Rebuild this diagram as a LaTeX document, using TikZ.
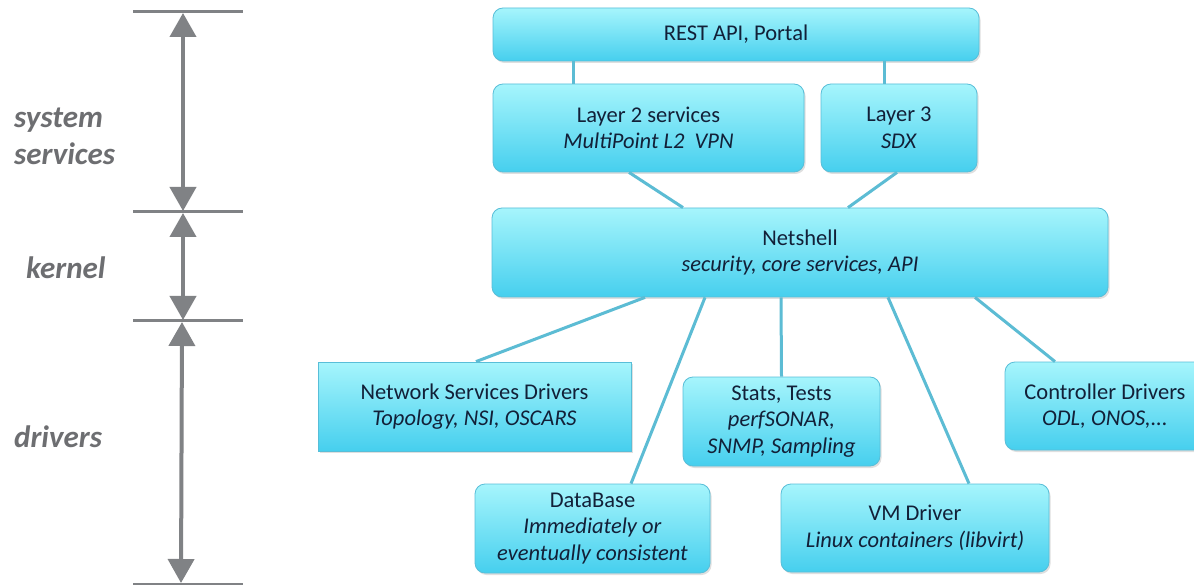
\documentclass[tikz,border=0pt]{standalone}
\usepackage{fontspec}
\setmainfont{Carlito}
\usetikzlibrary{arrows.meta,shadows}
\definecolor{boxtop}{HTML}{A6F5FC}
\definecolor{boxbot}{HTML}{46CFEE}
\definecolor{boxline}{HTML}{58BED8}
\definecolor{wire}{HTML}{5CBCD4}
\definecolor{ink}{HTML}{122038}
\definecolor{scalegray}{HTML}{808285}
\definecolor{labelgray}{HTML}{6D6E71}
\tikzset{
  box/.style={draw=boxline, line width=0.8pt, top color=boxtop, bottom color=boxbot,
    rounded corners=10pt, align=center, text=ink, inner sep=0pt,
    font=\fontsize{22.5}{26.5}\selectfont,
    drop shadow={opacity=0.25, shadow xshift=1.5pt, shadow yshift=-2pt}},
  sqbox/.style={box, rounded corners=0pt},
  wire/.style={draw=wire, line width=3pt},
  scale line/.style={draw=scalegray, line width=3pt},
  span/.style={draw=scalegray, line width=4pt,
    {Triangle[width=26pt,length=24pt]}-{Triangle[width=26pt,length=24pt]}},
  layer/.style={text=labelgray, align=left, anchor=west, inner sep=0pt,
    font=\fontsize{31}{37}\selectfont\bfseries\itshape}
}
\begin{document}
\begin{tikzpicture}[x=1pt,y=-1pt]
\clip (0,0) rectangle (1194,585);
\fill[white] (0,0) rectangle (1194,585);

% layer scale on the left
\coordinate (t0) at (133,12);  \coordinate (t0e) at (243,12);
\coordinate (t1) at (133,212); \coordinate (t1e) at (243,212);
\coordinate (t2) at (133,321); \coordinate (t2e) at (243,321);
\coordinate (t3) at (133,584); \coordinate (t3e) at (243,584);
\draw[scale line] (t0) -- (t0e);
\draw[scale line] (t1) -- (t1e);
\draw[scale line] (t2) -- (t2e);
\draw[scale line] (t3) -- (t3e);
\coordinate (a0) at (183,13);  \coordinate (a1) at (183,211);
\coordinate (b0) at (183,213); \coordinate (b1) at (183,320);
\coordinate (c0) at (182,322); \coordinate (c1) at (181,583);
\draw[span] (a0) -- (a1);
\draw[span] (b0) -- (b1);
\draw[span] (c0) -- (c1);
\node[layer] (lsys) at (14,136) {system\\services};
\node[layer] (lker) at (26,268) {kernel};
\node[layer] (ldrv) at (14,437) {drivers};

% boxes
\node[box, minimum width=486pt, minimum height=53pt] (rest) at (736,34.5) {REST API, Portal};
\node[box, minimum width=311pt, minimum height=88pt] (l2) at (648.5,128)
  {Layer 2 services\\\textit{MultiPoint L2\ \ VPN}};
\node[box, minimum width=156pt, minimum height=88pt] (l3) at (899,128)
  {Layer 3\\\textit{SDX}};
\node[box, minimum width=616pt, minimum height=89pt] (ns) at (800,252.5)
  {Netshell\\\textit{security, core services, API}};
\node[sqbox, minimum width=313pt, minimum height=89pt] (nsd) at (474.5,406.5)
  {Network Services Drivers\\\textit{Topology, NSI, OSCARS}};
\node[box, minimum width=197pt, minimum height=89pt] (st) at (781.5,421.5)
  {Stats, Tests\\\textit{perfSONAR,}\\\textit{SNMP, Sampling}};
\node[box, minimum width=200pt, minimum height=88pt] (ctl) at (1105,406)
  {Controller Drivers\\\textit{ODL, ONOS,...}};
\node[box, minimum width=235pt, minimum height=89pt] (db) at (592.5,528.5)
  {DataBase\\\textit{Immediately or}\\\textit{eventually consistent}};
\node[box, minimum width=268pt, minimum height=88pt] (vm) at (915,528)
  {VM Driver\\\textit{Linux containers (libvirt)}};

% connectors
\draw[wire] ([xshift=-163pt]rest.south) -- ([xshift=-75.5pt]l2.north);
\draw[wire] ([xshift=148pt]rest.south) -- ([xshift=-15pt]l3.north);
\draw[wire] ([xshift=-19.5pt]l2.south) -- ([xshift=-117pt]ns.north);
\draw[wire] ([xshift=-2pt]l3.south) -- ([xshift=48pt]ns.north);
\draw[wire] ([xshift=-155pt]ns.south) -- ([xshift=1.5pt]nsd.north);
\draw[wire] ([xshift=-95pt]ns.south) -- ([xshift=38.5pt]db.north);
\draw[wire] ([xshift=-19pt]ns.south) -- (st.north);
\draw[wire] ([xshift=88pt]ns.south) -- ([xshift=54pt]vm.north);
\draw[wire] ([xshift=175pt]ns.south) -- ([xshift=-50pt]ctl.north);
\end{tikzpicture}
\end{document}
